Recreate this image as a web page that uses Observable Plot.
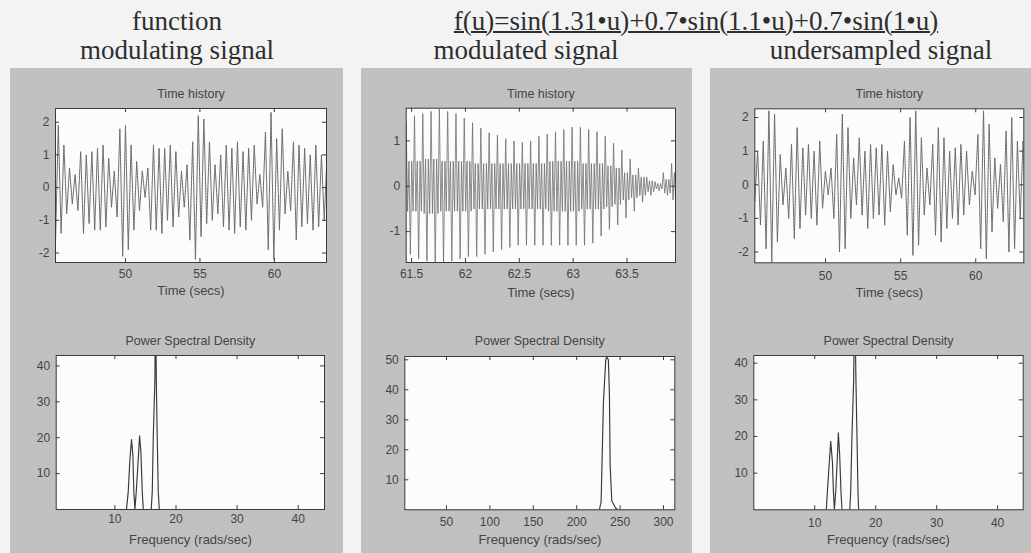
<!DOCTYPE html>
<html>
<head>
<meta charset="utf-8">
<script src="https://cdn.jsdelivr.net/npm/d3@7"></script>
<script src="https://cdn.jsdelivr.net/npm/@observablehq/plot@0.6"></script>
<style>
  html, body { margin: 0; padding: 0; }
  body { width: 1031px; height: 553px; overflow: hidden; position: relative; background: #f3f3f3; }
  .head { position: absolute; font-family: "Liberation Serif", "Times New Roman", serif; font-size: 27px; line-height: 1; color: #2e2e2e; white-space: nowrap; transform: translateX(-50%); }
  .panel { position: absolute; background-color: #cbcbcb;
    background-image: radial-gradient(circle, #b4b4b4 0.6px, transparent 0.8px);
    background-size: 2px 2px; }
  .plot { position: absolute; }
</style>
</head>
<body>
<div class="head" style="left:177px; top:8px;">function</div>
<div class="head" style="left:696px; top:8px; text-decoration: underline; text-decoration-thickness: 1.5px;">f(u)=sin(1.31•u)+0.7•sin(1.1•u)+0.7•sin(1•u)</div>
<div class="head" style="left:177px; top:37px;">modulating signal</div>
<div class="head" style="left:526px; top:37px;">modulated signal</div>
<div class="head" style="left:881px; top:37px;">undersampled signal</div>

<div class="panel" style="left:10px; top:68px; width:333px; height:485px;"></div>
<div class="panel" style="left:361px; top:68px; width:331px; height:485px;"></div>
<div class="panel" style="left:710px; top:68px; width:321px; height:485px;"></div>

<div id="p1t" class="plot" style="left:10px; top:68px;"></div>
<div id="p2t" class="plot" style="left:361px; top:68px;"></div>
<div id="p3t" class="plot" style="left:710px; top:68px;"></div>
<div id="p1b" class="plot" style="left:10px; top:310px;"></div>
<div id="p2b" class="plot" style="left:361px; top:310px;"></div>
<div id="p3b" class="plot" style="left:710px; top:310px;"></div>

<script>
// ---------- DATA ----------
// Panel titles / labels
const timeTitle = "Time history";
const psdTitle = "Power Spectral Density";
const timeLabel = "Time (secs)";
const freqLabel = "Frequency (rads/sec)";

// Tick labels
const ticksTime1 = [50, 55, 60];
const ticksAmp2 = [-2, -1, 0, 1, 2];
const ticksTime2 = [61.5, 62, 62.5, 63, 63.5];
const ticksAmp1 = [-1, 0, 1];
const ticksFreq1 = [10, 20, 30, 40];
const ticksPsd1 = [10, 20, 30, 40];
const ticksFreq2 = [50, 100, 150, 200, 250, 300];
const ticksPsd2 = [10, 20, 30, 40, 50];

// Modulating signal: successive extrema (alternating min / max), one every half period
const modulatingStart = 45.3;      // secs
const halfPeriod = 0.188;          // secs between successive extrema
const modulatingExtrema = [
  -1.7, 1.9, -1.4, 1.3, -0.8, 0.6, -0.5, 0.4, -0.7, 1.1,
  -1.4, 1.0, -1.1, 1.1, -1.3, 1.2, -1.3, 1.3, -1.2, 0.9,
  -0.6, 0.5, -0.9, 1.8, -2.1, 1.9, -1.9, 1.3, -1.3, 0.8,
  -0.7, 0.5, -0.3, 0.6, -1.3, 1.3, -1.3, 1.2, -1.4, 1.2,
  -1.0, 1.3, -1.2, 1.1, -0.9, 0.5, -0.6, 0.7, -1.6, 1.4,
  -2.2, 2.2, -1.5, 2.1, -1.1, 1.4, -1.0, 0.7, -0.8, 1.0,
  -1.2, 1.3, -1.3, 1.2, -1.4, 1.4, -1.2, 1.1, -1.3, 1.2,
  -1.0, 1.3, -0.5, 0.4, -0.6, 1.7, -1.9, 2.3, -2.2, 1.5,
  -1.3, 1.8, -0.8, 0.5, -0.7, 1.4, -1.6, 1.3, -1.2, 1.2,
  -1.1, 1.0, -1.3, 1.3, -1.2, 1.0, -1.0, 1.0
];

// Undersampled signal: successive extrema
const undersampledStart = 45.29;
const undersampledExtrema = [
  -0.5, 1.0, -1.2, 1.3, -1.9, 2.2, -2.3, 2.1, -1.7, 0.9,
  -0.6, 0.5, -1.0, 1.2, -1.6, 1.7, -1.3, 1.1, -0.9, 1.2,
  -1.0, 1.0, -1.2, 1.3, -0.7, 0.4, -0.3, 0.5, -1.0, 1.5,
  -2.0, 2.1, -1.9, 1.7, -1.0, 0.8, -0.6, 1.4, -0.9, 1.0,
  -1.3, 1.2, -1.0, 1.1, -0.9, 1.2, -1.2, 1.0, -0.8, 0.6,
  -0.3, 0.2, -0.4, 1.3, -1.5, 2.0, -2.1, 2.2, -1.8, 1.4,
  -0.9, 0.5, -0.6, 1.2, -1.5, 1.7, -1.7, 1.4, -1.3, 1.0,
  -1.0, 1.1, -1.2, 1.2, -0.9, 1.0, -0.6, 0.4, -0.3, 1.5,
  -1.9, 2.2, -2.2, 1.8, -1.4, 0.8, -0.7, 0.6, -1.1, 1.6,
  -2.0, 2.0, -1.9, 1.3, -1.0, 1.3, -0.8
];

// Modulated signal: per carrier burst, the upper spike, lower spike and core band amplitude
const modulatedStart = 61.45;
const burstStep = 0.077;
const burstTop = [
  1.4, 1.55, 1.6, 1.65, 1.7, 1.65, 1.6, 1.5, 1.4, 1.28,
  1.18, 1.13, 1.05, 1.0, 0.97, 1.0, 1.1, 1.15, 1.2, 1.25,
  1.3, 1.3, 1.25, 1.2, 1.1, 0.95, 0.8, 0.6, 0.4, 0.2,
  0.1, 0.3, 0.5
];
const burstBottom = [
  1.5, 1.6, 1.65, 1.7, 1.7, 1.65, 1.6, 1.55, 1.55, 1.5,
  1.45, 1.4, 1.35, 1.3, 1.3, 1.3, 1.3, 1.3, 1.3, 1.3,
  1.3, 1.3, 1.25, 1.1, 0.95, 0.85, 0.7, 0.55, 0.35, 0.2,
  0.1, 0.2, 0.4
];
const burstCore = [
  0.55, 0.55, 0.6, 0.6, 0.55, 0.55, 0.55, 0.55, 0.5, 0.5,
  0.5, 0.5, 0.5, 0.5, 0.5, 0.5, 0.5, 0.55, 0.55, 0.55,
  0.55, 0.5, 0.5, 0.5, 0.45, 0.4, 0.3, 0.25, 0.2, 0.12,
  0.06, 0.15, 0.3
];

// Power spectral densities (frequency in rads/sec, PSD)
const psd1Freq = [0.4, 11.9, 12.19, 12.46, 12.73, 12.95, 13.1, 13.28, 13.5, 13.72, 14.04, 14.26, 14.48, 14.65, 15.95, 16.12, 16.28, 16.55, 16.66, 16.78, 16.93, 17.1, 17.27, 44.3];
const psd1Value = [0, 0, 5, 14, 19.5, 15, 5, 0, 5, 11, 20.5, 16, 5, 0, 0, 5, 20, 36, 60, 36, 20, 5, 0, 0];

const psd2Freq = [2, 226, 228.1, 230.8, 233.5, 234.5, 236.5, 237.7, 238.5, 240.4, 242.3, 245, 248, 313];
const psd2Value = [0, 0, 2.5, 36, 50, 51, 50, 38.5, 15, 3, 2, 0.5, 0, 0];

const psd3Freq = [0, 11.9, 12.07, 12.35, 12.62, 12.9, 13.06, 13.22, 13.44, 13.7, 13.87, 14.09, 14.3, 14.47, 15.75, 15.9, 16.1, 16.38, 16.55, 16.76, 16.93, 17.09, 17.2, 44.2];
const psd3Value = [0, 0, 5, 12, 18.7, 13, 5, 0, 5, 14, 21, 15, 5, 0, 0, 5, 20, 35, 60, 35, 20, 5, 0, 0];

// ---------- BUILD TABLES ----------
const modulatingData = modulatingExtrema.map((v, i) => ({t: modulatingStart + i * halfPeriod, v}));
const undersampledData = undersampledExtrema.map((v, i) => ({t: undersampledStart + i * halfPeriod, v}));
const modulatedData = burstTop.flatMap((a, k) => {
  const b = burstBottom[k], c = burstCore[k];
  const t = modulatedStart + k * burstStep;
  return [a, -c, c, -b, c, -c].map((v, j) => ({t: t + j * burstStep / 6, v}));
});
const zipPsd = (f, p) => f.map((x, i) => ({f: x, p: p[i]}));

const ink = "#3c3c3c";

function panel(el, o) {
  const tk = 4; // inward tick length (px)
  const innerH = o.height - o.mt - o.mb;
  const innerW = o.width - o.ml - o.mr;
  const tickStroke = "#3a3a3a";
  const chart = Plot.plot({
    width: o.width, height: o.height,
    marginTop: o.mt, marginRight: o.mr, marginBottom: o.mb, marginLeft: o.ml,
    style: {background: "transparent", fontFamily: "'Liberation Sans', Arial, sans-serif", fontSize: "12px", color: ink},
    x: {domain: o.xDomain},
    y: {domain: o.yDomain},
    marks: [
      Plot.frame({fill: "#fcfcfc", stroke: null}),
      Plot.line(o.data, {x: o.x, y: o.y, stroke: o.stroke, strokeWidth: o.sw, strokeDasharray: o.dash, clip: true, curve: "linear"}),
      Plot.frame({stroke: "#3a3a3a", strokeWidth: 1}),
      // inward ticks on all four sides (MATLAB style)
      Plot.tickX(o.xTicks, {x: d => d, insetTop: innerH - tk, stroke: tickStroke}),
      Plot.tickX(o.xTicks, {x: d => d, insetBottom: innerH - tk, stroke: tickStroke}),
      Plot.tickY(o.yTicks, {y: d => d, insetRight: innerW - tk, stroke: tickStroke}),
      Plot.tickY(o.yTicks, {y: d => d, insetLeft: innerW - tk, stroke: tickStroke}),
      Plot.axisX(o.xTicks, {anchor: "bottom", label: null, tickSize: 0, tickPadding: o.xPad, fill: "#444", fontSize: 12, tickFormat: d => String(d)}),
      Plot.axisY(o.yTicks, {anchor: "left", label: null, tickSize: 0, tickPadding: 6, fill: "#444", fontSize: 12, tickFormat: d => String(d)}),
      Plot.text([o.title], {frameAnchor: "top", dy: o.titleDy, fontSize: 12.5, fill: "#444", lineAnchor: "middle"}),
      Plot.text([o.xlabel], {frameAnchor: "bottom", dy: o.labelDy, fontSize: 13, fill: "#444", lineAnchor: "middle"})
    ]
  });
  document.getElementById(el).appendChild(chart);
}

const timeStyle = {stroke: "#6a6a6a", sw: 1, dash: "2 0.8"};
const psdStyle = {stroke: "#3a3a3a", sw: 1.2, dash: "2 0.6"};

panel("p1t", {width: 333, height: 232, mt: 40, mr: 17, mb: 38, ml: 45,
  xDomain: [45.3, 63.5], yDomain: [-2.29, 2.42], xTicks: ticksTime1, yTicks: ticksAmp2,
  data: modulatingData, x: "t", y: "v", ...timeStyle,
  title: timeTitle, xlabel: timeLabel, titleDy: -15, labelDy: 28, xPad: 7});

panel("p2t", {width: 331, height: 232, mt: 39.7, mr: 17, mb: 38, ml: 44.7,
  xDomain: [61.45, 63.95], yDomain: [-1.68, 1.72], xTicks: ticksTime2, yTicks: ticksAmp1,
  data: modulatedData, x: "t", y: "v", stroke: "#6e6e6e", sw: 0.8, dash: "2 0.7",
  title: timeTitle, xlabel: timeLabel, titleDy: -14.4, labelDy: 30, xPad: 7});

panel("p3t", {width: 321, height: 232, mt: 40.3, mr: 7.7, mb: 37.7, ml: 44.3,
  xDomain: [45.29, 63.2], yDomain: [-2.32, 2.26], xTicks: ticksTime1, yTicks: ticksAmp2,
  data: undersampledData, x: "t", y: "v", ...timeStyle,
  title: timeTitle, xlabel: timeLabel, titleDy: -15, labelDy: 30, xPad: 9});

panel("p1b", {width: 333, height: 243, mt: 45, mr: 19, mb: 44, ml: 45.7,
  xDomain: [0.4, 44.3], yDomain: [0, 42.9], xTicks: ticksFreq1, yTicks: ticksPsd1,
  data: zipPsd(psd1Freq, psd1Value), x: "f", y: "p", ...psdStyle,
  title: psdTitle, xlabel: freqLabel, titleDy: -14.3, labelDy: 30, xPad: 5});

panel("p2b", {width: 331, height: 243, mt: 46, mr: 17.7, mb: 43.7, ml: 43.3,
  xDomain: [2, 313], yDomain: [0, 51.1], xTicks: ticksFreq2, yTicks: ticksPsd2,
  data: zipPsd(psd2Freq, psd2Value), x: "f", y: "p", ...psdStyle,
  title: psdTitle, xlabel: freqLabel, titleDy: -15.3, labelDy: 30, xPad: 8});

panel("p3b", {width: 321, height: 243, mt: 45, mr: 8.3, mb: 43.7, ml: 43.3,
  xDomain: [0, 44.2], yDomain: [0, 42.1], xTicks: ticksFreq1, yTicks: ticksPsd1,
  data: zipPsd(psd3Freq, psd3Value), x: "f", y: "p", ...psdStyle,
  title: psdTitle, xlabel: freqLabel, titleDy: -14.3, labelDy: 30, xPad: 9});
</script>
</body>
</html>
